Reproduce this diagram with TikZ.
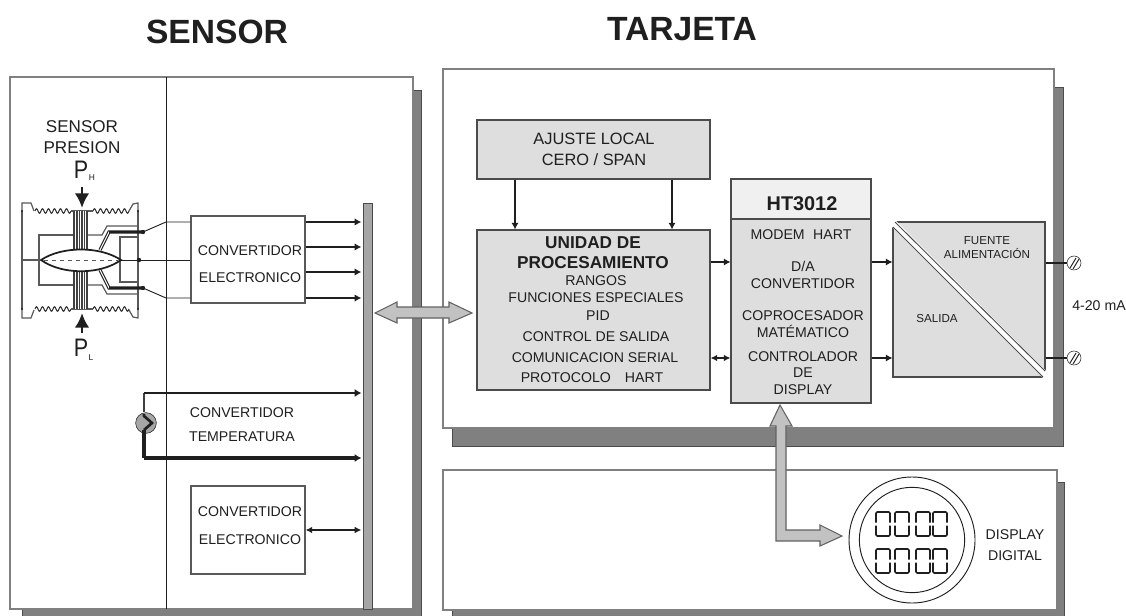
\documentclass[tikz,border=0pt]{standalone}
\usepackage{fontspec}
\setmainfont{Liberation Sans}
\usetikzlibrary{arrows.meta}
\definecolor{boxgray}{gray}{0.87}
\definecolor{headgray}{gray}{0.94}
\definecolor{shadowgray}{gray}{0.5}
\definecolor{busgray}{gray}{0.65}
\definecolor{widegray}{gray}{0.76}
\definecolor{linegray}{gray}{0.12}
\tikzset{
	panel/.style={draw=gray,fill=white,line width=0.8pt},
	panelshadow/.style={fill=shadowgray,draw=shadowgray!60!black,line width=0.5pt},
	block/.style={draw=linegray!80,fill=boxgray,line width=0.8pt,inner sep=0pt},
	whitebox/.style={draw=gray!70!black,fill=white,line width=0.8pt,inner sep=0pt},
	txt/.style={text=linegray,font=\fontsize{10.6}{12}\selectfont,align=center,inner sep=0pt},
	txtsmall/.style={text=linegray,font=\fontsize{8.7}{10}\selectfont,align=center,inner sep=0pt},
	titletxt/.style={text=linegray,font=\bfseries\fontsize{25.2}{28}\selectfont,inner sep=0pt},
	conn/.style={-{Latex[length=5pt,width=5.5pt]},line width=1.5pt,draw=linegray},
	bothconn/.style={{Latex[length=5pt,width=5pt]}-{Latex[length=5pt,width=5pt]},line width=1.4pt,draw=linegray},
	wide/.style={draw=linegray!70,fill=widegray,line width=0.8pt},
	press/.style={-{Latex[length=11pt,width=11pt]},line width=2.2pt,draw=linegray},
	capsule/.style={draw=gray!70!black,line width=0.9pt},
	wire/.style={draw=linegray,line width=0.7pt},
	term/.style={circle,draw=linegray,fill=white,minimum size=10.5pt,inner sep=0pt},
}
\begin{document}
\begin{tikzpicture}[x=0.75pt,y=-0.75pt]
	\useasboundingbox (0,0) rectangle (1126,616);
	% shadows and panels
	\fill[panelshadow] (22,90) rectangle (421,616);
	\fill[panelshadow] (452,87) rectangle (1063,446);
	\fill[panelshadow] (452,482) rectangle (1064,616);
	\draw[panel] (10,77) rectangle (413,609);
	\draw[panel] (443,69) rectangle (1054,428);
	\draw[panel] (443,470) rectangle (1057,610);
	\draw[linegray,line width=0.6pt] (166,77) -- (166,609);
	% titles
	\node[titletxt] (sensor) at (217,32) {SENSOR};
	\node[titletxt] (tarjeta) at (682,29) {TARJETA};
	% bus
	\node[draw=linegray!80,fill=busgray,minimum width=6.75pt,minimum height=304.5pt,inner sep=0pt] (bus) at (367.5,406) {};
	% pressure sensor
	\node[txt,font=\fontsize{12.8}{12.8}\selectfont] (presion) at (82,137) {SENSOR\\[3pt]PRESION};
	\node[text=linegray,font=\fontsize{19}{20}\selectfont,inner sep=0pt,xscale=0.85] (ph) at (81,170) {P};
	\node[text=linegray,font=\fontsize{6.3}{7}\selectfont,inner sep=0pt] (phsub) at (92,178) {H};
	\node[text=linegray,font=\fontsize{19}{20}\selectfont,inner sep=0pt,xscale=0.85] (pl) at (81,348) {P};
	\node[text=linegray,font=\fontsize{6.3}{7}\selectfont,inner sep=0pt] (plsub) at (91,358) {L};
	\coordinate (phtop) at (82,187);
	\coordinate (phtip) at (82,208);
	\coordinate (pltop) at (82,333);
	\coordinate (pltip) at (82,313);
	\draw[press] (phtop) -- (phtip);
	\draw[press] (pltop) -- (pltip);
	% capsule
	\draw[capsule] (22,211) -- (22,309) (138,211) -- (138,309);
	\draw[capsule] (22,211) -- (22,203) -- (31,203) -- (34,211);
	\draw[capsule] (138,211) -- (138,203) -- (133,204) -- (129,211);
	\draw[capsule] (22,309) -- (22,318) -- (31,318) -- (34,310);
	\draw[capsule] (138,309) -- (138,318) -- (133,317) -- (129,310);
	\foreach \yy in {211,309}{
		\foreach \xx in {35,41,...,65,93,99,...,123}{
			\draw[linegray,line width=0.7pt] (\xx,\yy) .. controls (\xx+1,\yy-3) and (\xx+2,\yy-3) .. (\xx+3,\yy) .. controls (\xx+4,\yy+3) and (\xx+5,\yy+3) .. (\xx+6,\yy);
		}
		\draw[capsule] (71,\yy) -- (93,\yy);
		\fill[linegray] (22,\yy) circle (1.2) (138,\yy) circle (1.2);
	}
	\fill[linegray!85] (73,211) rectangle (88,251);
	\fill[linegray!85] (73,270) rectangle (88,309);
	\foreach \xx in {75.5,78,80.5,83,85.5}{
		\draw[white,line width=0.4pt] (\xx,211) -- (\xx,251) (\xx,270) -- (\xx,309);
	}
	\draw[capsule] (73,235) -- (39,235) -- (39,285) -- (73,285);
	\draw[capsule] (88,235) -- (102,235) -- (107,226) -- (138,226);
	\draw[capsule] (88,285) -- (102,285) -- (107,294) -- (138,294);
	\draw[capsule] (138,237) -- (120,237) -- (120,282) -- (138,282);
	\draw[capsule] (22,260) -- (41,260);
	\draw[fill=white,draw=linegray,line width=1.3pt] (41,260) .. controls (62,246) and (100,246) .. (121,260) .. controls (100,275) and (62,275) .. (41,260);
	\draw[gray!70!black,dashed,line width=0.6pt] (44,260) -- (118,260);
	\draw[linegray,line width=0.8pt,double=white,double distance=0.8pt] (100,250) -- (109,232) -- (143,232);
	\draw[linegray,line width=0.8pt,double=white,double distance=0.8pt] (100,270) -- (109,288) -- (143,288);
	\draw[linegray,line width=2pt] (109,232) -- (143,232) (109,288) -- (143,288);
	\fill[linegray] (143,232) circle (2.2) (139,260) circle (2.2) (143,288) circle (2.2);
	\draw[linegray,line width=0.7pt] (121,260) -- (139,260);
	\coordinate (wtop) at (143,232);
	\coordinate (wmid) at (139,260);
	\coordinate (wlow) at (143,288);
	% converter of the sensor
	\node[whitebox,minimum width=85.5pt,minimum height=65.25pt] (conv1) at (248,259.5) {};
	\node[txt] (conv1txt) at (250,264.5) {CONVERTIDOR\\[8.3pt]ELECTRONICO};
	\draw[wire] (wtop) -- (166,222) -- (conv1.west |- 166,222);
	\draw[wire] (wmid) -- (conv1.west |- wmid);
	\draw[wire] (wlow) -- (166,298) -- (conv1.west |- 166,298);
	\foreach \yy in {222,247,272,298}{
		\draw[conn,shorten >=1pt] (conv1.east |- 0,\yy) -- (bus.west |- 0,\yy);
	}
	% temperature
	\node[circle,draw=linegray,fill=busgray,minimum size=15.5pt,inner sep=0pt] (heater) at (146,423) {};
	\coordinate (tempA) at (144,393);
	\coordinate (tempB) at (144,458);
	\draw[gray!50!black,line width=2pt] (heater.north -| tempA) -- (tempA);
	\draw[-{Latex[length=5pt,width=6pt]},line width=2pt,draw=linegray,shorten >=1pt] (tempA) -- (bus.west |- tempA);
	\draw[-{Latex[length=5pt,width=6pt]},line width=3pt,draw=linegray,shorten >=1pt] (tempB) -- (bus.west |- tempB);
	\draw[linegray,line width=3pt] (tempB) -- (144,430);
	\draw[linegray,line width=2pt] (144,430) -- (152,423) -- (144,416) -- (144,414);
	\node[txt] (temptxt) at (242,425) {CONVERTIDOR\\[6pt]TEMPERATURA};
	% second converter
	\node[whitebox,minimum width=85.5pt,minimum height=66pt] (conv2) at (248,530) {};
	\node[txt] (conv2txt) at (250,525.5) {CONVERTIDOR\\[8.8pt]ELECTRONICO};
	\draw[bothconn,shorten >=1pt] (conv2) -- (bus.west |- conv2);
	% boxes of the card
	\node[block,minimum width=174.75pt,minimum height=44.25pt] (ajuste) at (593.5,149.5) {};
	\node[txt,font=\fontsize{12.3}{14}\selectfont] (ajustetxt) at (594,149.5) {AJUSTE LOCAL\\[1.8pt]CERO / SPAN};
	\node[block,minimum width=174.75pt,minimum height=120pt] (unidad) at (593.5,310) {};
	\node[txt,font=\bfseries\fontsize{12.9}{15}\selectfont] (unidadtitle) at (593,253) {UNIDAD DE\\PROCESAMIENTO};
	\node[txt] (rangos) at (596,281) {RANGOS};
	\node[txt] (funciones) at (596,298) {FUNCIONES ESPECIALES};
	\node[txt] (pid) at (598,316) {PID};
	\node[txt] (control) at (596,337) {CONTROL DE SALIDA};
	\node[txt] (comunicacion) at (595,358) {COMUNICACION SERIAL};
	\node[txt] (protocolo) at (592,378) {PROTOCOLO\hspace{1em}HART};
	\draw[conn] (ajuste.south -| 515,0) -- (unidad.north -| 515,0);
	\draw[conn] (ajuste.south -| 672,0) -- (unidad.north -| 672,0);
	\node[block,minimum width=105pt,minimum height=168pt] (ht) at (801,291) {};
	\node[block,fill=headgray,minimum width=105pt,minimum height=30pt] (hthead) at (801,199) {};
	\node[txt,font=\bfseries\fontsize{14.9}{16}\selectfont] (httxt) at (802,204) {HT3012};
	\node[txt] (modem) at (801,235) {MODEM\hspace{0.6em}HART};
	\node[txt] (da) at (803,275) {D/A\\[0.4pt]CONVERTIDOR};
	\node[txt] (copro) at (803,324) {COPROCESADOR\\[0.8pt]MATÉMATICO};
	\node[txt] (contr) at (803,373) {CONTROLADOR\\[0.2pt]DE\\[0.2pt]DISPLAY};
	\draw[conn] (unidad.east |- 0,262) -- (ht.west |- 0,262);
	\draw[bothconn] (unidad.east |- 0,358) -- (ht.west |- 0,358);
	% output block
	\node[block,minimum width=114pt,minimum height=116.25pt] (salida) at (969,299.5) {};
	\fill[white] (892,221) -- (896,221) -- (1046,371) -- (1046,378) -- (1043,378) -- (892,227) -- cycle;
	\draw[linegray!80,line width=0.7pt] (895,222) -- (1045,371) (893,227) -- (1043,377);
	\node[txtsmall] (fuente) at (987,248) {FUENTE\\[0.5pt]ALIMENTACIÓN};
	\node[txtsmall] (salidatxt) at (937,319) {SALIDA};
	\draw[conn] (ht.east |- 0,262) -- (salida.west |- 0,262);
	\draw[conn] (ht.east |- 0,358) -- (salida.west |- 0,358);
	\node[term] (term1) at (1074,263) {};
	\node[term] (term2) at (1074,358) {};
	\draw[linegray,line width=0.7pt] (1070,268) -- (1076,258) (1073,269) -- (1079,259);
	\draw[linegray,line width=0.7pt] (1070,363) -- (1076,353) (1073,364) -- (1079,354);
	\draw[line width=1.5pt,linegray] (salida.east |- term1) -- (term1);
	\draw[line width=1.5pt,linegray] (salida.east |- term2) -- (term2);
	\node[txt] (ma) at (1099,306) {4-20 mA};
	% wide arrows
	\draw[wide] (375,313) -- (397,302) -- (397,307) -- (449,307) -- (449,302) -- (472,313) -- (449,323) -- (449,318) -- (397,318) -- (397,323) -- cycle;
	\draw[wide] (780,405) -- (792,426) -- (786,426) -- (786,530) -- (820,530) -- (820,525) -- (842,536) -- (820,546) -- (820,541) -- (776,541) -- (776,426) -- (770,426) -- cycle;
	% display
	\node[circle,draw=linegray,line width=0.7pt,minimum size=94.5pt,inner sep=0pt] (dispout) at (912,540) {};
	\node[circle,draw=linegray,line width=0.7pt,minimum size=79pt,inner sep=0pt] (dispin) at (912,540) {};
	\foreach \yy in {524,561}{
		\foreach \xx in {876,895,916,933}{
			\draw[linegray,line width=1.2pt,rounded corners=1pt] (\xx,\yy-1.5) -- (\xx,\yy-12) -- (\xx+14,\yy-12) -- (\xx+14,\yy-1.5) (\xx,\yy+1.5) -- (\xx,\yy+12) -- (\xx+14,\yy+12) -- (\xx+14,\yy+1.5);
		}
	}
	\node[txt] (disptxt) at (1015,545.5) {DISPLAY\\[3.8pt]DIGITAL};
\end{tikzpicture}
\end{document}
